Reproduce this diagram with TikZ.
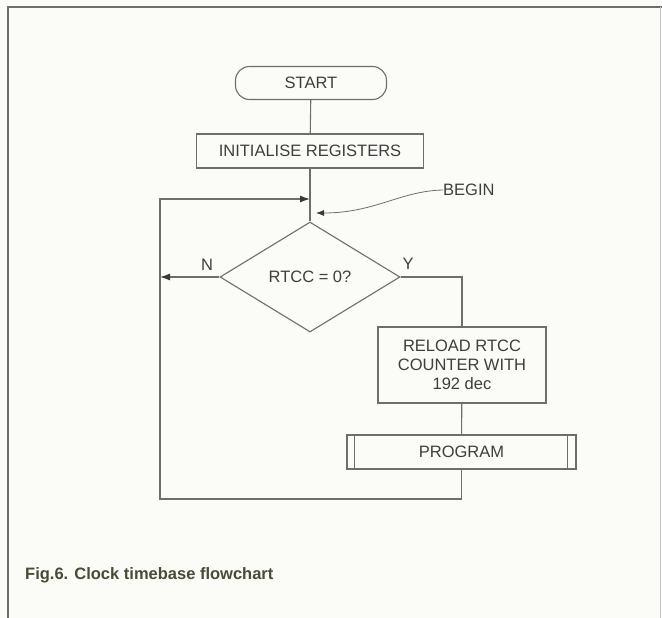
\documentclass[tikz,border=0pt]{standalone}
\usepackage{fontspec}
\setmainfont{Liberation Sans}
\usetikzlibrary{shapes.geometric,arrows.meta}
\definecolor{ln}{HTML}{6E6E6E}
\definecolor{tx}{HTML}{3E3E3E}
\definecolor{tipc}{HTML}{3A3A32}
\definecolor{capc}{HTML}{4A4A38}
\definecolor{bg}{HTML}{FBFBF8}
\begin{document}
\begin{tikzpicture}[x=1pt,y=-1pt,
 box/.style={draw=ln, line width=1.1pt, rectangle, inner sep=0pt, text=tx, font=\fontsize{16.5}{19}\selectfont, align=center},
 lbl/.style={text=tx, inner sep=0pt, font=\fontsize{16.5}{19}\selectfont},
 conn/.style={draw=ln, line width=1.1pt},
 tip/.style={-{Latex[length=10pt,width=7pt,color=tipc]}},
]
\fill[bg] (0,0) rectangle (662,618);
\useasboundingbox (0,0) rectangle (662,618);
\draw[ln, line width=1.3pt] (8,618) -- (8,7) -- (662,7);
\draw[ln!40, line width=0.6pt] (660,7) -- (660,618);

\node[box, rounded corners=14pt, minimum width=151pt, minimum height=33pt] (start) at (311,83) {START};
\node[box, minimum width=227pt, minimum height=34pt] (init) at (310,151) {INITIALISE REGISTERS};
\node[box, diamond, aspect=1.64, minimum width=180pt, minimum height=110pt] (dec) at (310,277) {RTCC = 0?};
\node[box, minimum width=168pt, minimum height=76pt] (reload) at (462,365) {RELOAD RTCC\\COUNTER WITH\\192 dec};
\node[box, minimum width=229pt, minimum height=34pt] (prog) at (461.5,452) {PROGRAM};
\draw[conn] ([xshift=8pt]prog.north west) -- ([xshift=8pt]prog.south west);
\draw[conn] ([xshift=-9pt]prog.north east) -- ([xshift=-9pt]prog.south east);

\coordinate (join) at (310,199);
\coordinate (tl) at (160,199);
\coordinate (nl) at (160,277);
\coordinate (bl) at (160,499);
\coordinate (yr) at (462,277);
\coordinate (bt) at (316,213);

\draw[conn] (start) -- (init);
\draw[conn] (init) -- (dec.north);
\draw[conn,tip] (dec.west) -- (nl);
\draw[conn] (dec.east) -- (yr) -- (reload.north);
\draw[conn] (reload) -- (prog);
\draw[conn,tip] (prog.south) |- (bl) -- (tl) -- (join);

\node[lbl] (nlab) at (207,265) {N};
\node[lbl] (ylab) at (408,264) {Y};
\node[lbl, anchor=west] (begin) at (443,190) {BEGIN};
\draw[ln, line width=0.8pt, -{Latex[length=8pt,width=6pt,color=tipc]}] (begin.west) .. controls (400,191) and (375,213) .. (bt);

\node[anchor=west, text=capc, inner sep=0pt, font=\bfseries\fontsize{16.5}{19}\selectfont] (caption) at (25,575) {Fig.6. Clock timebase flowchart};
\end{tikzpicture}
\end{document}
